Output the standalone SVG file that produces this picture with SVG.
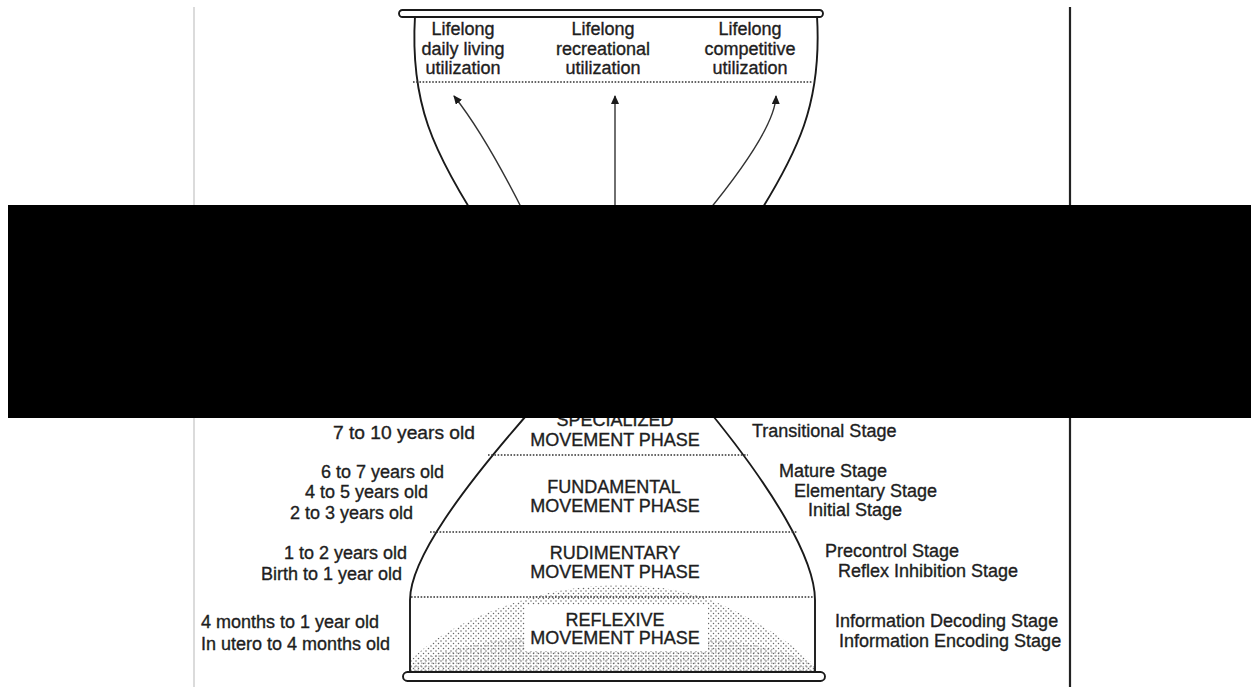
<svg xmlns="http://www.w3.org/2000/svg" width="1251" height="687" viewBox="0 0 1251 687">
<style>
.t{font-family:"Liberation Sans",Arial,sans-serif;font-size:18px;fill:#1e1e1e;stroke:#1e1e1e;stroke-width:0.35}
.c{text-anchor:middle}
.e{text-anchor:end}
.wall{fill:none;stroke:#1a1a1a;stroke-width:1.9}
.dot{stroke:#333;stroke-width:1.3;stroke-dasharray:1.6 1.6;fill:none}
.rim{fill:#fff;stroke:#1a1a1a;stroke-width:1.9}
.arr{fill:none;stroke:#333;stroke-width:1.4;marker-end:url(#ah)}
</style>
<defs>
<marker id="ah" markerWidth="10" markerHeight="8" refX="8" refY="4" orient="auto" markerUnits="userSpaceOnUse">
<path d="M0,0 L9,4 L0,8 Z" fill="#1a1a1a"/>
</marker>
<pattern id="stip" width="5" height="5" patternUnits="userSpaceOnUse">
<circle cx="1" cy="1" r="0.75" fill="#666"/>
<circle cx="3.5" cy="3.5" r="0.75" fill="#666"/>
</pattern>
<pattern id="stip2" width="3.5" height="3.5" patternUnits="userSpaceOnUse">
<circle cx="1.7" cy="1.7" r="0.7" fill="#666"/>
</pattern>
</defs>
<rect width="1251" height="687" fill="#fff"/>
<line x1="194" y1="7" x2="194" y2="687" stroke="#cfcfcf" stroke-width="1.5"/>
<line x1="1070" y1="7" x2="1070" y2="687" stroke="#222" stroke-width="2.2"/>

<g id="bowl">
<path class="wall" d="M415,16 C410,100 430,150 490,240"/>
<path class="wall" d="M817,16 C822,100 802,150 742,240"/>
<line class="dot" x1="413" y1="82" x2="813" y2="82"/>
<rect class="rim" x="399" y="10" width="424" height="7" rx="3.5"/>
</g>

<g id="daily-living">
<text class="t c" x="463" y="35">Lifelong</text>
<text class="t c" x="463" y="55">daily living</text>
<text class="t c" x="463" y="74">utilization</text>
</g>
<g id="recreational">
<text class="t c" x="603" y="35">Lifelong</text>
<text class="t c" x="603" y="55">recreational</text>
<text class="t c" x="603" y="74">utilization</text>
</g>
<g id="competitive">
<text class="t c" x="750" y="35">Lifelong</text>
<text class="t c" x="750" y="55">competitive</text>
<text class="t c" x="750" y="74">utilization</text>
</g>

<g id="connectors">
<path class="arr" d="M525,215 Q485,135 454,96"/>
<path class="arr" d="M615,215 L615,96"/>
<path class="arr" d="M705,215 Q775,130 776,96"/>
</g>

<g id="dome">
<path d="M411,672 L411,660 C430,640 470,615 530,598 C570,585 640,578 700,596 C740,610 790,640 814,665 L814,672 Z" fill="url(#stip)"/>
<path d="M411,672 L411,666 C440,648 500,638 560,634 C620,630 700,634 760,646 C790,653 805,660 814,666 L814,672 Z" fill="url(#stip2)"/>
<rect x="525" y="605" width="183" height="46" fill="#fff"/>
<path class="wall" d="M410,672 L410,600 C410,560 460,490 540,400"/>
<path class="wall" d="M815,672 L815,600 C815,560 775,490 700,400"/>
<line class="dot" x1="488" y1="455" x2="748" y2="455"/>
<line class="dot" x1="430" y1="532" x2="798" y2="532"/>
<line class="dot" x1="411" y1="597" x2="814" y2="597"/>
<rect class="rim" x="403" y="672" width="422" height="9" rx="4.5"/>
</g>

<g id="specialized-phase">
<text class="t c" x="615" y="426">SPECIALIZED</text>
<text class="t c" x="615" y="446">MOVEMENT PHASE</text>
</g>
<g id="fundamental-phase">
<text class="t c" x="614" y="493">FUNDAMENTAL</text>
<text class="t c" x="615" y="512">MOVEMENT PHASE</text>
</g>
<g id="rudimentary-phase">
<text class="t c" x="615" y="559">RUDIMENTARY</text>
<text class="t c" x="615" y="578">MOVEMENT PHASE</text>
</g>
<g id="reflexive-phase">
<text class="t c" x="615" y="626">REFLEXIVE</text>
<text class="t c" x="615" y="644">MOVEMENT PHASE</text>
</g>

<g id="ages">
<text class="t" x="333" y="439" textLength="142" lengthAdjust="spacingAndGlyphs">7 to 10 years old</text>
<text class="t e" x="444" y="478">6 to 7 years old</text>
<text class="t e" x="428" y="498">4 to 5 years old</text>
<text class="t e" x="413" y="519">2 to 3 years old</text>
<text class="t e" x="407" y="559">1 to 2 years old</text>
<text class="t e" x="402" y="580">Birth to 1 year old</text>
<text class="t" x="201" y="628">4 months to 1 year old</text>
<text class="t" x="201" y="650">In utero to 4 months old</text>
</g>

<g id="stages">
<text class="t" x="752" y="437">Transitional Stage</text>
<text class="t" x="779" y="477">Mature Stage</text>
<text class="t" x="794" y="497">Elementary Stage</text>
<text class="t" x="808" y="516">Initial Stage</text>
<text class="t" x="825" y="557">Precontrol Stage</text>
<text class="t" x="838" y="577">Reflex Inhibition Stage</text>
<text class="t" x="835" y="627">Information Decoding Stage</text>
<text class="t" x="839" y="647">Information Encoding Stage</text>
</g>

<rect x="8" y="205" width="1243" height="213" fill="#000"/>
</svg>
